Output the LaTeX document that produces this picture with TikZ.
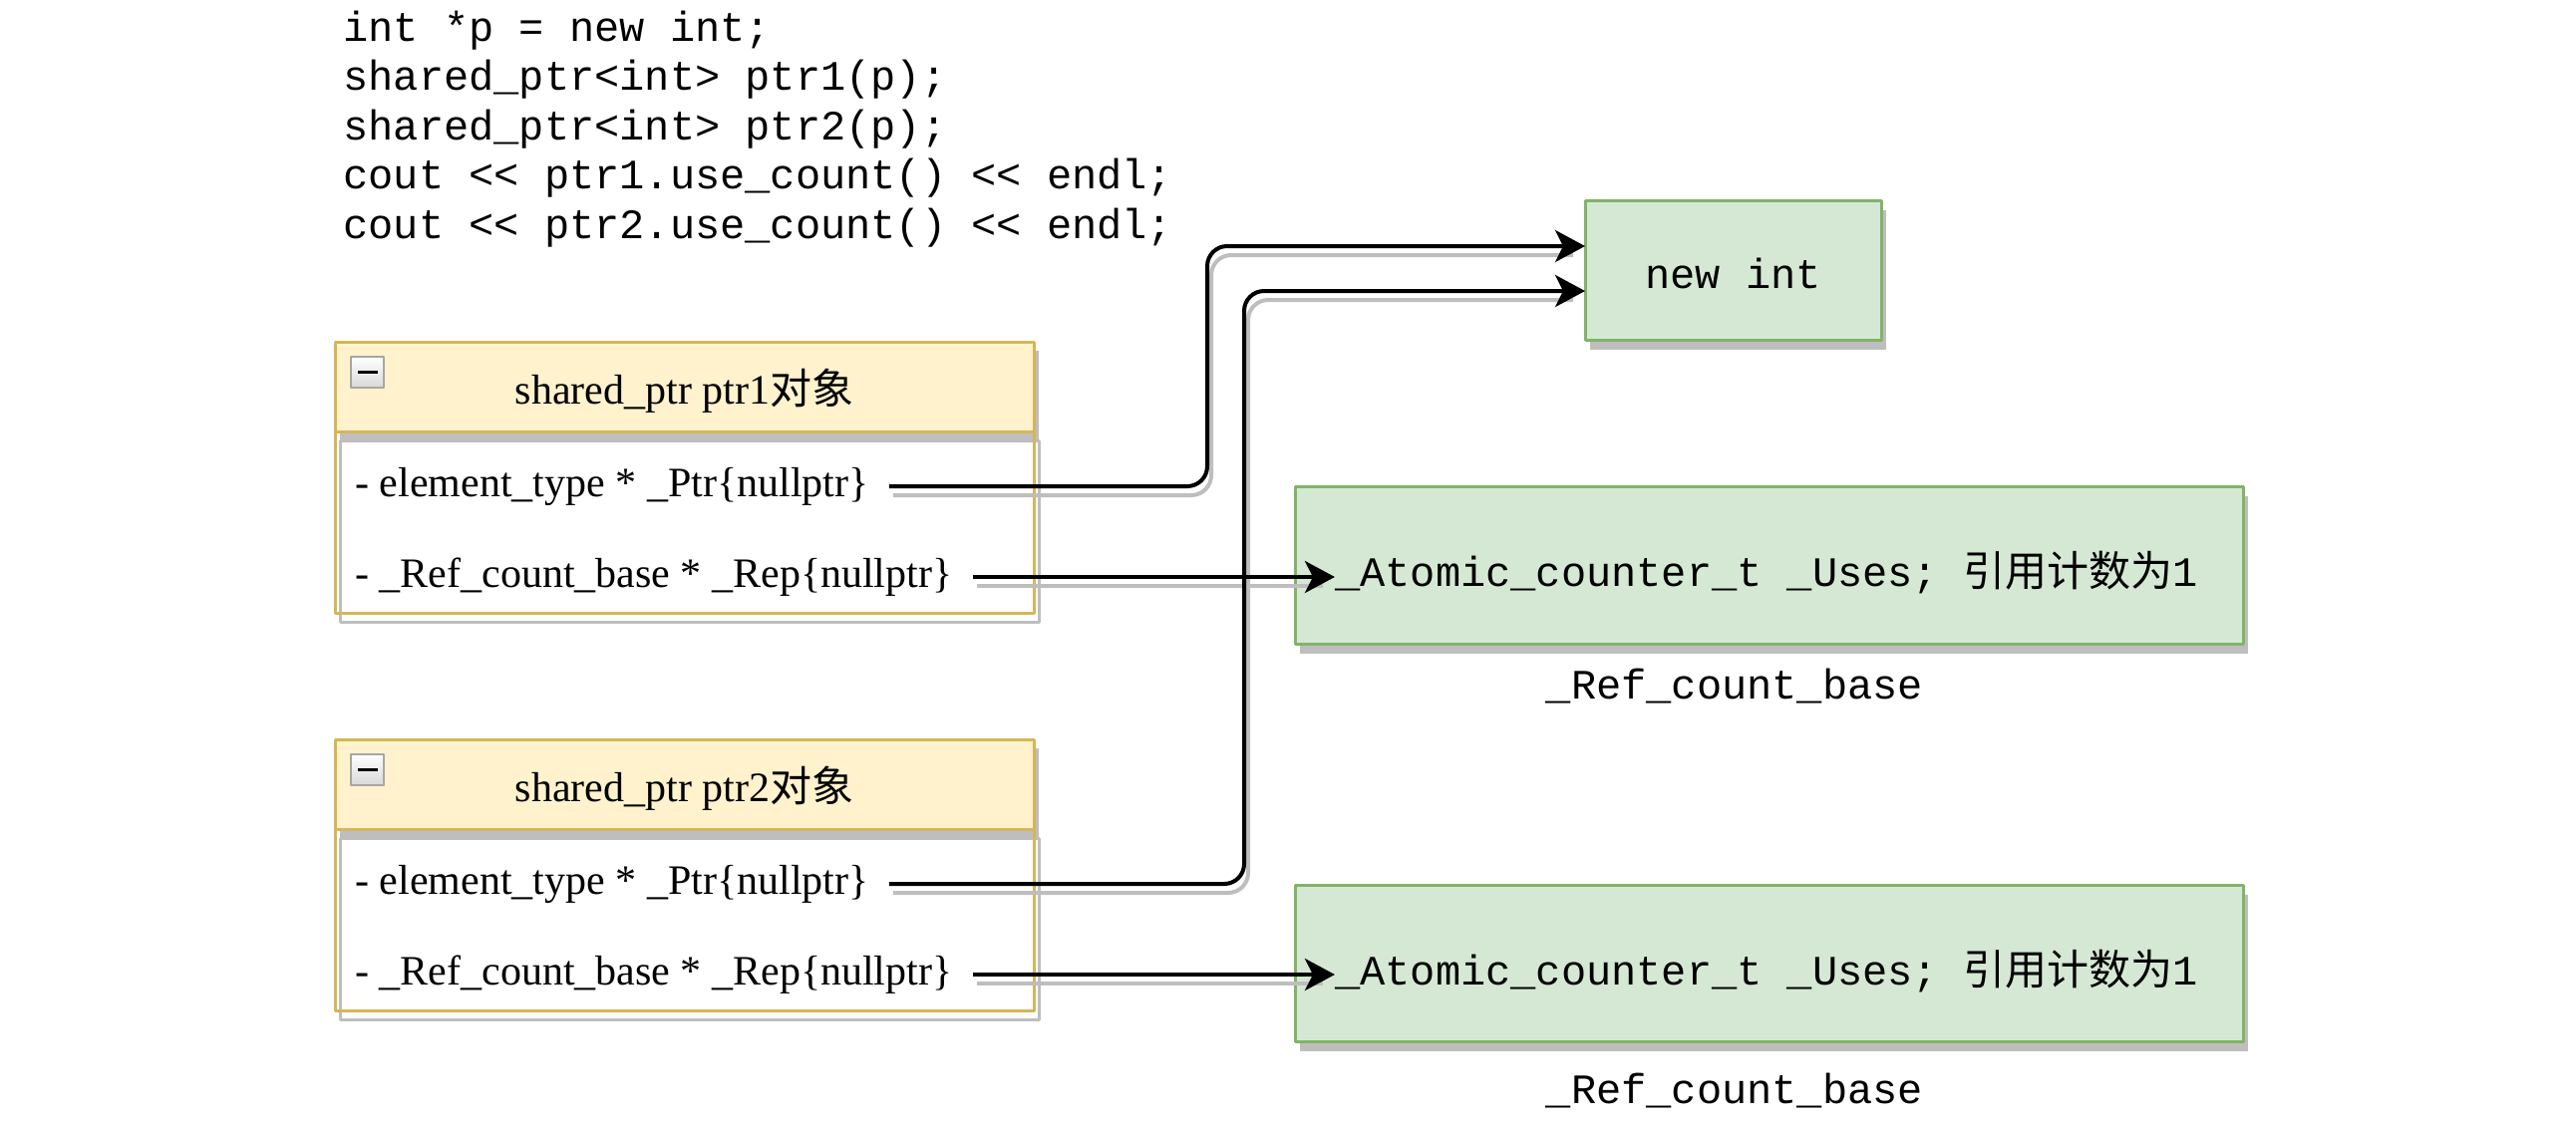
\documentclass[tikz,border=0pt]{standalone}
\usepackage{fontspec}
\setmainfont{Liberation Serif}
\setmonofont{Liberation Mono}
\newfontfamily\cjk{Noto Sans CJK SC}
\usetikzlibrary{arrows.meta,shadows,positioning}
\definecolor{hdrfill}{HTML}{FFF2CC}
\definecolor{hdrline}{HTML}{D6B656}
\definecolor{boxfill}{HTML}{D5E8D4}
\definecolor{boxline}{HTML}{82B366}
\definecolor{shade}{HTML}{BEBEBE}
\begin{document}
\begin{tikzpicture}[x=0.5pt, y=-0.5pt, line join=round, >={Stealth[length=15pt,width=16pt,inset=4pt]},
	font=\fontsize{21}{24.75}\selectfont,
	hdr/.style={draw=hdrline, fill=hdrfill, line width=1.5pt, outer sep=0pt, minimum width=350.5pt, minimum height=45pt,
		text height=22pt, drop shadow={shadow xshift=2.5pt, shadow yshift=-4.5pt, fill=shade, opacity=1}},
	lane/.style={draw=hdrline, line width=1.5pt, outer sep=0pt, minimum width=350.5pt, minimum height=91pt,
		preaction={draw=shade, transform canvas={xshift=2.5pt, yshift=-4.5pt}}},
	field/.style={anchor=west, inner xsep=10pt, inner ysep=0pt},
	minus/.style={draw=black!35, top color=white, bottom color=black!15, line width=1pt, minimum width=16.5pt, minimum height=15.5pt, inner sep=0pt},
	valbox/.style={draw=boxline, fill=boxfill, line width=1.5pt, outer sep=0pt,
		drop shadow={shadow xshift=2.5pt, shadow yshift=-5pt, fill=shade, opacity=1}},
	mono/.style={font=\fontsize{21}{24.75}\selectfont\ttfamily, inner sep=0pt},
	wire/.style={->, line width=2pt, rounded corners=10pt},
	wireshade/.style={draw=shade, line width=2pt, rounded corners=10pt, transform canvas={xshift=2pt, yshift=-4.5pt}}]
	\useasboundingbox (0,0) rectangle (2584,1130);
	% code
	\node[mono, anchor=base west, align=left] (src) at (344,239) {int *p = new int;\\shared\_ptr<int> ptr1(p);\\shared\_ptr<int> ptr2(p);\\cout << ptr1.use\_count() << endl;\\cout << ptr2.use\_count() << endl;};
	% shared_ptr ptr1
	\node[hdr] (h1) at (686.5,388) {shared\_ptr ptr1{\cjk 对象}};
	\node[lane, below=0pt of h1] (b1) {};
	\node[minus] (icon1) at (368.5,373.5) {\rule{10pt}{1.8pt}};
	\node[field] (p1ptr) at (336,488) {- element\_type * \_Ptr\{nullptr\}};
	\node[field] (p1rep) at (336,579) {- \_Ref\_count\_base * \_Rep\{nullptr\}};
	% shared_ptr ptr2
	\node[hdr] (h2) at (686.5,787) {shared\_ptr ptr2{\cjk 对象}};
	\node[lane, below=0pt of h2] (b2) {};
	\node[minus] (icon2) at (368.5,772.5) {\rule{10pt}{1.8pt}};
	\node[field] (p2ptr) at (336,887) {- element\_type * \_Ptr\{nullptr\}};
	\node[field] (p2rep) at (336,978) {- \_Ref\_count\_base * \_Rep\{nullptr\}};
	% new int
	\node[valbox, mono, minimum width=148.5pt, minimum height=70pt, text height=18.5pt] (newint) at (1738.5,271) {new int};
	% counters
	\node[valbox, minimum width=475.5pt, minimum height=79pt] (cnt1) at (1774.5,567) {};
	\node[mono] (uses1) at (1772,575) {\_Atomic\_counter\_t \_Uses; {\cjk 引用计数为}1};
	\node[mono] (base1) at (1740,689) {\_Ref\_count\_base};
	\node[valbox, minimum width=475.5pt, minimum height=78.5pt] (cnt2) at (1774.5,966.5) {};
	\node[mono] (uses2) at (1772,975) {\_Atomic\_counter\_t \_Uses; {\cjk 引用计数为}1};
	\node[mono] (base2) at (1740,1095) {\_Ref\_count\_base};
	% pointers
	\coordinate (bend1) at (1211,247);
	\coordinate (bend2) at (1248,292);
	\draw[wireshade] (p1ptr.east) -| (bend1) -- ([xshift=-8pt]bend1 -| newint.west);
	\draw[wireshade] (p2ptr.east) -| (bend2) -- ([xshift=-8pt]bend2 -| newint.west);
	\draw[wireshade] (p1rep.east) -- ([xshift=-8pt]p1rep.east -| uses1.west);
	\draw[wireshade] (p2rep.east) -- ([xshift=-8pt]p2rep.east -| uses2.west);
	\draw[wire] (p1ptr.east) -| (bend1) -- (bend1 -| newint.west);
	\draw[wire] (p2ptr.east) -| (bend2) -- (bend2 -| newint.west);
	\draw[wire] (p1rep.east) -- (p1rep.east -| uses1.west);
	\draw[wire] (p2rep.east) -- (p2rep.east -| uses2.west);
\end{tikzpicture}
\end{document}
